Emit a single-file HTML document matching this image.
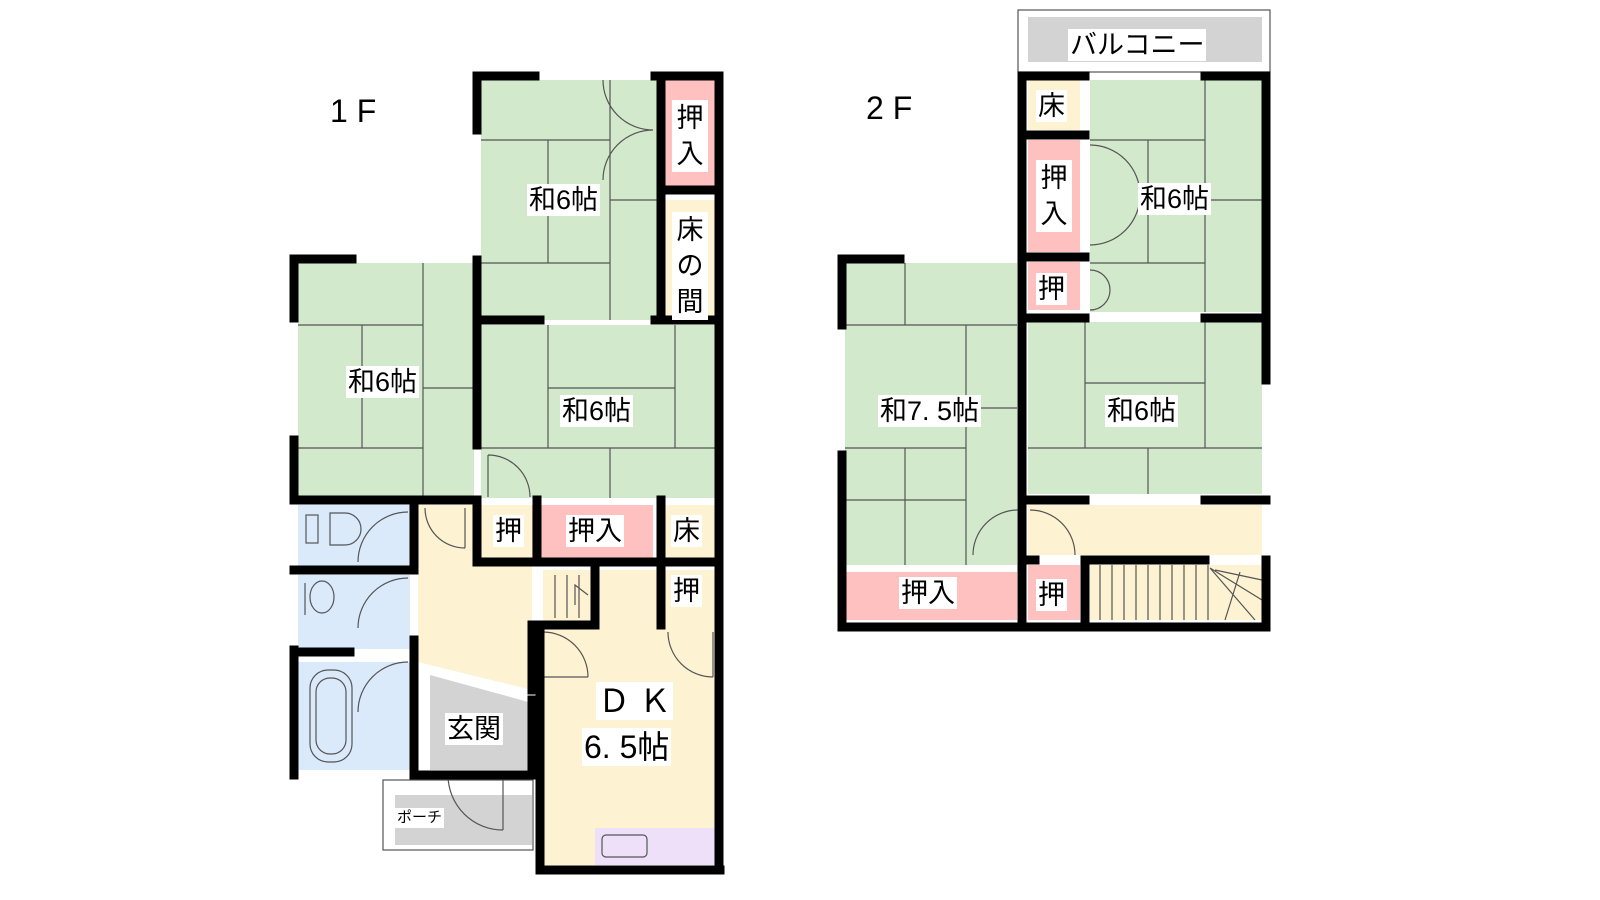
<!DOCTYPE html>
<html><head><meta charset="utf-8"><style>
html,body{margin:0;padding:0;background:#fff}
.w{position:relative;width:1600px;height:900px;overflow:hidden}
.l{position:absolute;background:#fff;font-family:"Liberation Sans","Noto Sans CJK JP",sans-serif;font-size:27px;line-height:32px;color:#000;white-space:nowrap;padding:0 2px}
.v{line-height:36px;text-align:center;width:32px;white-space:normal}
.t{position:absolute;font-family:"Liberation Sans","Noto Sans CJK JP",sans-serif;font-size:32px}
</style></head><body><div class="w">
<svg width="1600" height="900" style="position:absolute;left:0;top:0">
<g stroke="none">
<rect x="298" y="263" width="176" height="235" fill="#d3e9cc"/>
<rect x="481" y="80" width="176" height="240" fill="#d3e9cc"/>
<rect x="665" y="80" width="50" height="113" fill="#ffc0c0"/>
<rect x="665" y="200" width="50" height="116" fill="#fdf2d2"/>
<rect x="481" y="325" width="235" height="173" fill="#d3e9cc"/>
<rect x="488" y="505" width="45" height="58" fill="#ffc0c0"/>
<rect x="541" y="505" width="112" height="58" fill="#ffc0c0"/>
<rect x="663" y="505" width="52" height="58" fill="#fdf2d2"/>
<rect x="663" y="570" width="52" height="55" fill="#ffc0c0"/>
<rect x="298" y="505" width="112" height="63" fill="#dbeafb"/>
<rect x="298" y="575" width="112" height="74" fill="#dbeafb"/>
<rect x="298" y="662" width="112" height="108" fill="#dbeafb"/>
<polygon points="418,505 532,505 532,690 430,665 418,662" fill="#fdf2d2"/>
<polygon points="430,675 532,703 532,770 430,770" fill="#d3d3d3"/>
<rect x="395" y="795" width="137" height="50" fill="#d3d3d3"/>
<rect x="543" y="570" width="172" height="295" fill="#fdf2d2"/>
<rect x="595" y="828" width="120" height="37" fill="#eee0f8"/>
<rect x="1028" y="17" width="234" height="45" fill="#d3d3d3"/>
<rect x="1028" y="80" width="52" height="50" fill="#fdf2d2"/>
<rect x="1028" y="140" width="52" height="112" fill="#ffc0c0"/>
<rect x="1028" y="262" width="52" height="48" fill="#ffc0c0"/>
<rect x="1090" y="80" width="172" height="232" fill="#d3e9cc"/>
<rect x="1028" y="322" width="234" height="172" fill="#d3e9cc"/>
<rect x="845" y="263" width="172" height="302" fill="#d3e9cc"/>
<rect x="845" y="572" width="172" height="48" fill="#ffc0c0"/>
<rect x="1028" y="505" width="234" height="50" fill="#fdf2d2"/>
<rect x="1028" y="565" width="52" height="55" fill="#ffc0c0"/>
<rect x="1090" y="565" width="172" height="55" fill="#fdf2d2"/>
</g>
<g stroke="#555" stroke-width="1.2" fill="none">
<path d="M298 325H423M423 263V498M362 325V448M298 448H423M423 388H474"/>
<path d="M481 140H610M548 140V263M481 263H610M610 80V320M610 200H657"/>
<path d="M548 325V448M548 388H675M675 325V448M481 448H716M610 448V498"/>
<path d="M845 325H1017M905 263V325M905 448V565M966 325V565M845 448H966M966 408H1017M845 500H966"/>
<path d="M1205 80V312M1205 200H1262M1090 140H1205M1148 140V263M1090 263H1205"/>
<path d="M1085 322V448M1085 383H1205M1205 322V448M1028 448H1262M1148 448V494"/>
<path d="M1100 565V620M1112 565V620M1124 565V620M1136 565V620M1148 565V620M1160 565V620M1172 565V620M1184 565V620M1196 565V620M1208 565V620M1210 568L1262 600M1210 568L1255 620M1215 570L1262 580M1240 572L1225 620"/>
<path d="M555 575V618M567 575V618M579 575V618M588 595L575 585V605"/>
<rect x="383" y="780" width="150" height="70"/>
<rect x="1018" y="10" width="252" height="62"/>
<rect x="602" y="835" width="45" height="22" rx="4"/>
<rect x="310" y="670" width="42" height="92" rx="18"/>
<rect x="316" y="678" width="30" height="76" rx="14"/>
<path d="M345 513H330V545H345A16 16 0 0 0 345 513"/><rect x="306" y="515" width="12" height="28"/>
<ellipse cx="322" cy="597" rx="12" ry="16"/><path d="M305 583V615"/>
<path d="M603 80A50 50 0 0 0 653 130M603 180A50 50 0 0 1 653 130"/>
<path d="M488 455A42 42 0 0 1 530 497M488 455V497"/>
<path d="M425 508A40 40 0 0 0 465 548M465 548V508"/>
<path d="M408 512A50 50 0 0 0 358 562M408 578A50 50 0 0 0 358 628M408 662A50 50 0 0 0 358 712"/>
<path d="M543 632A45 45 0 0 1 588 677M543 677H588"/>
<path d="M668 632A45 45 0 0 0 713 677M713 632V677"/>
<path d="M448 775A55 55 0 0 0 503 830M503 775V830"/>
<path d="M1090 145A50 50 0 0 1 1140 195M1090 245A50 50 0 0 0 1140 195M1090 270A20 20 0 0 1 1110 290M1090 310A20 20 0 0 0 1110 290"/>
<path d="M973 555A45 45 0 0 1 1018 510M1030 510A45 45 0 0 1 1075 555"/>
</g>
<g stroke="#000" stroke-width="9" fill="none" stroke-linecap="square">
<path d="M294 318V259H352M294 440V500H470M294 650V775"/>
<path d="M477 130V76H535M655 76H719V870H705M477 260V445"/>
<path d="M477 500V562H595V625H540V870H720M600 562H719M661 500V625M537 500V562"/>
<path d="M414 500V568M294 570H414M414 640V775H532V700M294 652H350M532 625V690M414 658L414 680"/>
<path d="M477 320H540M655 320H719M661 190H719M661 76V320"/>
<path d="M842 325V259H900M842 455V627H1266V560M1266 380V76H1205M1022 76H1085M1022 76V627"/>
<path d="M1022 135H1085M1022 257H1085M1022 318H1085M1205 318H1266M1022 500H1085M1205 500H1266M1085 560H1205M1085 560V627M1022 560H1035"/>
</g>
</svg>
<div class="t" style="left:330px;top:93px">1 F</div>
<div class="t" style="left:866px;top:90px">2 F</div>
<div class="l" style="left:527px;top:184px">和6帖</div>
<div class="l" style="left:346px;top:366px">和6帖</div>
<div class="l" style="left:560px;top:395px">和6帖</div>
<div class="l v" style="left:672px;top:100px">押入</div>
<div class="l v" style="left:672px;top:212px">床の間</div>
<div class="l" style="left:493px;top:515px">押</div>
<div class="l" style="left:566px;top:515px">押入</div>
<div class="l" style="left:671px;top:515px">床</div>
<div class="l" style="left:671px;top:575px">押</div>
<div class="l" style="left:445px;top:713px">玄関</div>
<div class="l" style="left:395px;top:808px;font-size:15px;line-height:20px">ポーチ</div>
<div class="l" style="left:596px;top:682px;font-size:32px;line-height:38px">Ｄ Ｋ</div>
<div class="l" style="left:582px;top:728px;font-size:32px;line-height:38px">6. 5帖</div>
<div class="l" style="left:1068px;top:29px">バルコニー</div>
<div class="l" style="left:1036px;top:90px">床</div>
<div class="l v" style="left:1036px;top:160px">押入</div>
<div class="l" style="left:1036px;top:273px">押</div>
<div class="l" style="left:1138px;top:183px">和6帖</div>
<div class="l" style="left:878px;top:395px">和7. 5帖</div>
<div class="l" style="left:1105px;top:395px">和6帖</div>
<div class="l" style="left:899px;top:577px">押入</div>
<div class="l" style="left:1036px;top:579px">押</div>
</div></body></html>
